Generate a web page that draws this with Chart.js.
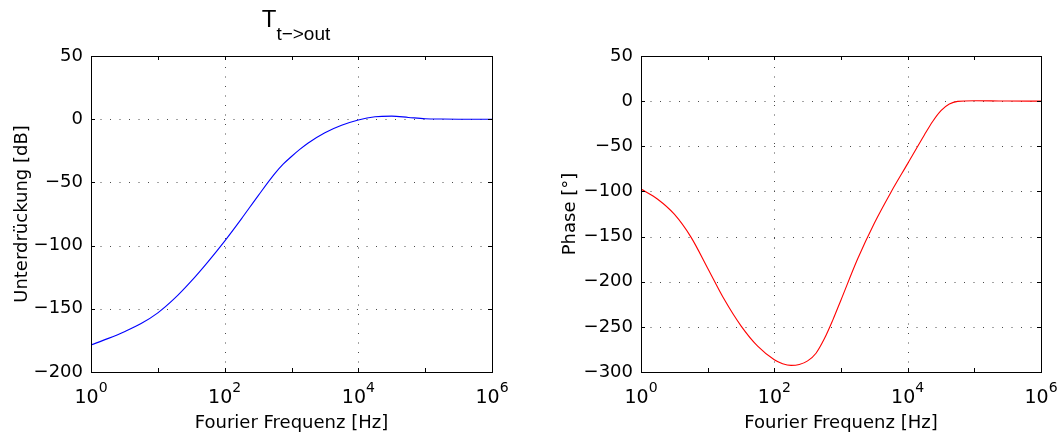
<!DOCTYPE html>
<html>
<head>
<meta charset="utf-8">
<script src="https://cdn.jsdelivr.net/npm/chart.js@4.4.1/dist/chart.umd.min.js"></script>
<style>
  html, body { margin: 0; padding: 0; background: #fff; }
  .panel { position: absolute; top: 0; height: 437px; }
  #left { left: 0; width: 530px; }
  #right { left: 530px; width: 529px; }
</style>
</head>
<body>
<div class="panel" id="left"><canvas id="mag" width="530" height="437"></canvas></div>
<div class="panel" id="right"><canvas id="phase" width="529" height="437"></canvas></div>
<script>
// T t->out, suppression in dB over frequency in Hz
const magFreq = [1, 1.78, 3.16, 5.62, 10, 17.8, 31.6, 56.2, 100, 178, 316, 562, 750,
  1000, 1330, 1780, 3160, 5620, 10000, 17800, 31600, 56200, 100000, 178000, 316000, 1000000];
const magnitude = [-178.6, -173.6, -168.1, -161.7, -153.2, -141.8, -128.1, -112.8, -96.4,
  -78.8, -60.6, -43.1, -35.6, -29.5, -23.9, -18.8, -10.7, -4.8, -0.6, 1.9, 2.4, 1.4,
  0.4, 0.1, 0, 0];

// phase in degrees over frequency in Hz
const phaseFreq = [1, 1.78, 3.16, 5.62, 10, 17.8, 31.6, 56.2, 100, 133, 178, 237, 316,
  422, 562, 750, 1000, 1780, 3160, 5620, 10000, 17800, 23700, 31600, 42200, 56200,
  100000, 178000, 316000, 1000000];
const phase = [-97.3, -108.6, -125.2, -150.6, -185, -219.8, -248.9, -271.4, -286.4,
  -290.8, -292.7, -291.7, -287.7, -279.2, -263.3, -242.8, -220.2, -174.6, -135.2,
  -100.8, -69.2, -37.5, -22.5, -10.5, -3.2, -0.3, 0.4, 0.3, 0.1, 0];

const xTicks = [1, 10, 100, 1000, 10000, 100000, 1000000];
const xTickBase = ["10", "", "10", "", "10", "", "10"];
const xTickExp = ["0", "", "2", "", "4", "", "6"];
const magTicks = [-200, -150, -100, -50, 0, 50];
const phaseTicks = [-300, -250, -200, -150, -100, -50, 0, 50];

const FONT = "'DejaVu Sans', Verdana, sans-serif";
const TITLE_FONT = "'Liberation Sans', Arial, Helvetica, sans-serif";
const TICK_LEN = 4;

// dotted grid, box, inward tick marks and 10^n labels like the original plot
const matlabAxes = {
  id: "matlabAxes",
  beforeDatasetsDraw(chart) {
    const { ctx, chartArea: a, scales: { x, y } } = chart;
    ctx.save();
    ctx.strokeStyle = "#4a4a4a";
    ctx.lineWidth = 1;
    ctx.setLineDash([1, 8.5]);
    x.ticks.forEach((t, i) => {
      if (!xTickBase[i] || t.value === x.min || t.value === x.max) return;
      const px = Math.round(x.getPixelForValue(t.value)) + 0.5;
      ctx.beginPath();
      ctx.moveTo(px, a.bottom);
      ctx.lineTo(px, a.top);
      ctx.stroke();
    });
    y.ticks.forEach((t) => {
      if (t.value === y.min || t.value === y.max) return;
      const py = Math.round(y.getPixelForValue(t.value)) + 0.5;
      ctx.beginPath();
      ctx.moveTo(a.left, py);
      ctx.lineTo(a.right, py);
      ctx.stroke();
    });
    ctx.restore();
  },
  afterDatasetsDraw(chart) {
    const { ctx, chartArea: a, scales: { x, y } } = chart;
    ctx.save();
    ctx.strokeStyle = "#000";
    ctx.lineWidth = 1;
    ctx.strokeRect(a.left + 0.5, a.top + 0.5, a.right - a.left, a.bottom - a.top);
    ctx.beginPath();
    x.ticks.forEach((t) => {
      const px = Math.round(x.getPixelForValue(t.value)) + 0.5;
      ctx.moveTo(px, a.bottom);
      ctx.lineTo(px, a.bottom - TICK_LEN);
      ctx.moveTo(px, a.top);
      ctx.lineTo(px, a.top + TICK_LEN);
    });
    y.ticks.forEach((t) => {
      const py = Math.round(y.getPixelForValue(t.value)) + 0.5;
      ctx.moveTo(a.left, py);
      ctx.lineTo(a.left + TICK_LEN, py);
      ctx.moveTo(a.right, py);
      ctx.lineTo(a.right - TICK_LEN, py);
    });
    ctx.stroke();

    // x tick labels as 10 with raised exponent
    ctx.fillStyle = "#000";
    ctx.textBaseline = "alphabetic";
    ctx.textAlign = "left";
    x.ticks.forEach((t, i) => {
      if (!xTickBase[i]) return;
      const px = x.getPixelForValue(t.value);
      ctx.font = "19px " + FONT;
      const wb = ctx.measureText(xTickBase[i]).width;
      ctx.font = "14px " + FONT;
      const we = ctx.measureText(xTickExp[i]).width;
      const x0 = px - (wb + we) / 2;
      ctx.font = "19px " + FONT;
      ctx.fillText(xTickBase[i], x0, a.bottom + 31);
      ctx.font = "14px " + FONT;
      ctx.fillText(xTickExp[i], x0 + wb, a.bottom + 19.5);
    });
    ctx.restore();
  },
};

// title with subscript: T_{t->out}
const subTitle = {
  id: "subTitle",
  afterDraw(chart) {
    const { ctx, chartArea: a } = chart;
    const main = "T";
    const sub = "t\u2212>out";
    ctx.save();
    ctx.fillStyle = "#000";
    ctx.textBaseline = "alphabetic";
    ctx.font = "24px " + TITLE_FONT;
    const wMain = ctx.measureText(main).width;
    ctx.font = "19px " + TITLE_FONT;
    const wSub = ctx.measureText(sub).width;
    const x0 = (a.left + a.right) / 2 + 4.5 - (wMain + wSub) / 2;
    ctx.font = "24px " + TITLE_FONT;
    ctx.fillText(main, x0, 27);
    ctx.font = "19px " + TITLE_FONT;
    ctx.fillText(sub, x0 + wMain, 39.5);
    ctx.restore();
  },
};

function makeChart(canvasId, freq, values, color, yTicks, yTitle, yWidth, yTitlePad, padRight, plugins) {
  const ctx = document.getElementById(canvasId);
  return new Chart(ctx, {
    type: "line",
    data: {
      datasets: [
        {
          data: freq.map((f, i) => ({ x: f, y: values[i] })),
          borderColor: color,
          borderWidth: 1.1,
          pointRadius: 0,
          fill: false,
          cubicInterpolationMode: "monotone",
        },
      ],
    },
    options: {
      responsive: false,
      animation: false,
      layout: { padding: { top: 56, right: padRight, left: 0, bottom: 0 } },
      plugins: { legend: { display: false }, tooltip: { enabled: false } },
      scales: {
        x: {
          type: "logarithmic",
          min: xTicks[0],
          max: xTicks[xTicks.length - 1],
          afterBuildTicks: (scale) => {
            scale.ticks = xTicks.map((v) => ({ value: v }));
          },
          afterFit: (scale) => {
            scale.height = 65;
          },
          grid: { display: false, drawTicks: false },
          border: { display: false },
          ticks: { display: false, autoSkip: false, maxRotation: 0 },
          title: {
            display: true,
            text: "Fourier Frequenz [Hz]",
            color: "#000",
            font: { family: FONT, size: 18 },
            padding: { top: 0, bottom: 3 },
          },
        },
        y: {
          min: yTicks[0],
          max: yTicks[yTicks.length - 1],
          afterBuildTicks: (scale) => {
            scale.ticks = yTicks.map((v) => ({ value: v }));
          },
          afterFit: (scale) => {
            scale.width = yWidth;
          },
          grid: { display: false, drawTicks: false },
          border: { display: false },
          ticks: {
            padding: 8,
            color: "#000",
            font: { family: FONT, size: 18 },
            callback: (value) => (value < 0 ? "\u2212" + Math.abs(value) : String(value)),
          },
          title: {
            display: true,
            text: yTitle,
            color: "#000",
            font: { family: FONT, size: 18 },
            padding: { top: yTitlePad, bottom: 0 },
          },
        },
      },
    },
    plugins: plugins,
  });
}

makeChart("mag", magFreq, magnitude, "#0000ff", magTicks, "Unterdr\u00fcckung [dB]", 91, 12, 38, [matlabAxes, subTitle]);
makeChart("phase", phaseFreq, phase, "#ff0000", phaseTicks, "Phase [\u00b0]", 111, 30, 18, [matlabAxes]);
</script>
</body>
</html>
